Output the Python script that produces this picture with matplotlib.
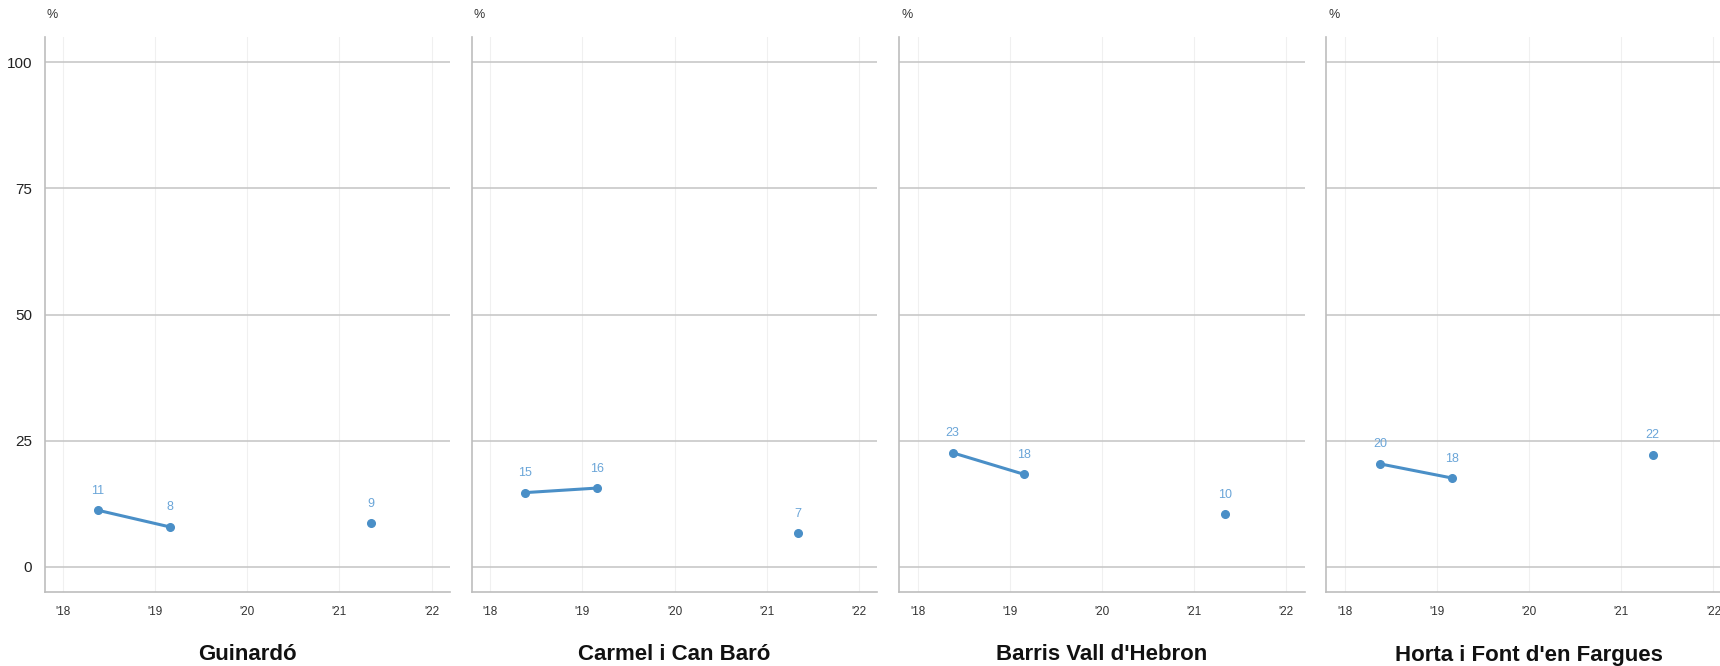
import numpy as np
import matplotlib
matplotlib.use("Agg")
import matplotlib.pyplot as plt

plt.rcParams['font.family'] = ['Liberation Sans', 'DejaVu Sans']

# survey dates (fractional years); 2020 has no survey, so NaN breaks the line
dates = [2018.38, 2019.16, 2020.25, 2021.34]
districts = ["Guinardó", "Carmel i Can Baró", "Barris Vall d'Hebron", "Horta i Font d'en Fargues"]
guinardo = [11.2, 7.9, np.nan, 8.6]
carmel = [14.7, 15.6, np.nan, 6.6]
vall_hebron = [22.6, 18.3, np.nan, 10.4]
horta = [20.4, 17.6, np.nan, 22.2]
series = [guinardo, carmel, vall_hebron, horta]

year_ticks = [2018, 2019, 2020, 2021, 2022]
year_labels = ["'18", "'19", "'20", "'21", "'22"]
y_ticks = [0, 25, 50, 75, 100]

line_color = "#4a8fc7"
label_color = "#6aa5d8"

W, H = 1720, 666
fig = plt.figure(figsize=(W / 100, H / 100), dpi=100)

for i, (name, vals) in enumerate(zip(districts, series)):
    left = 44.5 + 427.3 * i
    ax = fig.add_axes([left / W, 74 / H, 405.5 / W, 555 / H])
    ax.plot(dates, vals, color=line_color, lw=2.2, marker='o', ms=5.5, zorder=3)
    for x, v in zip(dates, vals):
        if not np.isnan(v):
            ax.annotate(f"{v:.0f}", (x, v), xytext=(0, 14), textcoords='offset points',
                        ha='center', va='center', fontsize=9, color=label_color)

    ax.set_xlim(2017.8, 2022.2)
    ax.set_ylim(-5, 105)
    ax.set_xticks(year_ticks)
    ax.set_xticklabels(year_labels)
    ax.set_yticks(y_ticks)
    ax.tick_params(axis='x', length=0, pad=10, labelsize=8.5, labelcolor='#333333')
    ax.tick_params(axis='y', length=0, pad=9, labelsize=11, labelcolor='#222222')
    if i > 0:
        ax.set_yticklabels([])

    ax.grid(axis='y', color='#c8c8c8', lw=1.2)
    ax.grid(axis='x', color='#f0f0f0', lw=0.8)
    ax.set_axisbelow(True)
    for s in ['top', 'right']:
        ax.spines[s].set_visible(False)
    for s in ['left', 'bottom']:
        ax.spines[s].set_color('#bdbdbd')
        ax.spines[s].set_linewidth(1.2)

    ax.text(0.005, 1.04, "%", transform=ax.transAxes, ha='left', va='center',
            fontsize=9, color='#333333')
    fig.text((left + 405.5 / 2) / W, 11 / H, name, ha='center', va='center',
             fontsize=16, fontweight='bold', color='#111111')

fig.savefig("out.png", dpi=100)
